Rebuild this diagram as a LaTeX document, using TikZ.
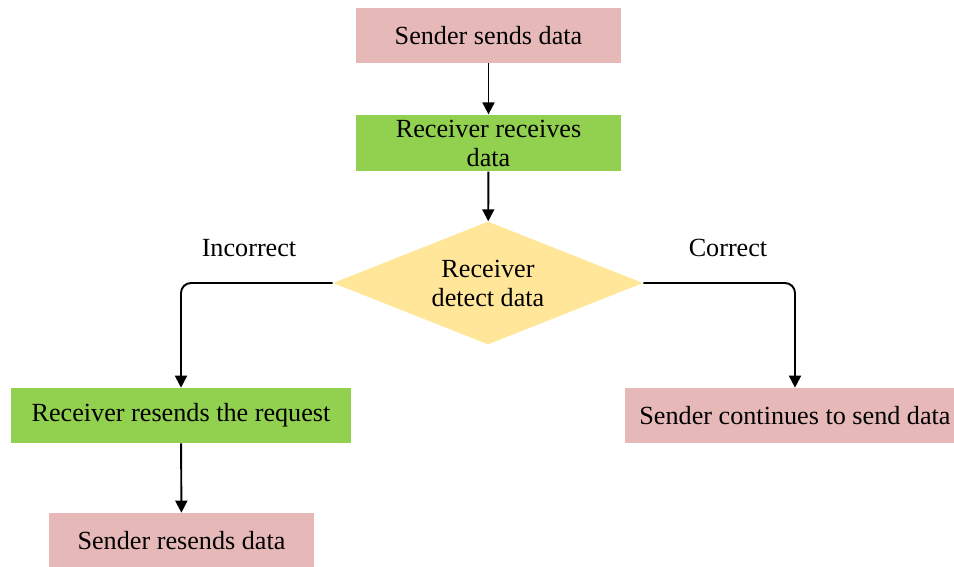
\documentclass[tikz,border=0pt]{standalone}
\usepackage{fontspec}
\setmainfont{Liberation Serif}
\usetikzlibrary{arrows.meta,shapes.geometric,positioning}

\definecolor{sendpink}{HTML}{E6B9B8}
\definecolor{recvgreen}{HTML}{92D050}
\definecolor{checkyellow}{HTML}{FFE699}

\begin{document}
\begin{tikzpicture}[x=0.02cm, y=-0.02cm,
        >={Triangle[length=6.8pt,width=6.8pt]},
        every node/.style = {font=\fontsize{14.9}{16.5}\selectfont, align=center, inner sep=1mm},
        pinkbox/.style = {fill=sendpink, minimum width=5.3cm, minimum height=1.1cm},
        greenbox/.style = {fill=recvgreen, minimum width=5.3cm, minimum height=1.1cm},
        widebox/.style = {minimum width=6.8cm},
        decision/.style = {diamond, fill=checkyellow, aspect=2.5, inner sep=0pt,
                minimum width=6.2cm, minimum height=2.46cm},
        flow/.style = {->, line width=1.1pt},
    ]
        \useasboundingbox (0,0) rectangle (954,566);
        \clip (0,0) rectangle (954,566);

        \node[pinkbox] (send) at (488.5,35.5) {Sender sends data};
        \node[greenbox] (recv) at (488.5,143) {Receiver receives\\data};
        \node[decision] (check) at (488,283) {Receiver\\detect data};
        \node[greenbox, widebox] (resend) at (181,415.5) {Receiver resends the request};
        \node[pinkbox, widebox] (goon) at (795,415.5) {Sender continues to send data};
        \node[pinkbox] (again) at (181.5,540.5) {Sender resends data};

        \node (wrong) at (249,248) {Incorrect};
        \node (right) at (728,248) {Correct};

        \draw[flow] (send) -- (recv);
        \draw[flow] (recv) -- (check);
        \draw[flow, rounded corners=0.2cm] (check.west) -| (resend.north);
        \draw[flow, rounded corners=0.2cm] (check.east) -| (goon.north);
        \draw[flow] (resend) -- (again);
    \end{tikzpicture}
\end{document}
